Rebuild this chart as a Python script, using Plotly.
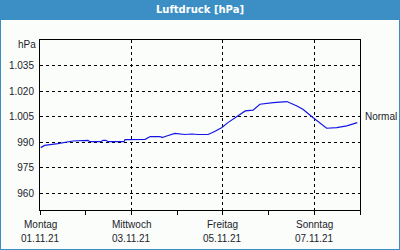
import plotly.graph_objects as go

# --- data ---
days = [0.015, 0.10, 0.39, 0.72, 1.05, 1.09, 1.33, 1.38, 1.44, 1.49, 1.84, 1.86,
        2.30, 2.41, 2.63, 2.67, 2.77, 2.95, 3.17, 3.32, 3.46, 3.68, 3.83, 3.98,
        4.11, 4.33, 4.49, 4.66, 4.81, 5.10, 5.40, 5.62, 5.75, 5.97, 6.27, 6.49,
        6.71, 6.94]
pressure = [986.7, 988.0, 989.0, 990.6, 991.0, 990.2, 990.2, 991.0, 991.0, 990.2, 990.2, 991.4,
            991.6, 993.2, 993.2, 992.6, 993.5, 995.1, 994.4, 994.7, 994.4, 994.4, 996.3, 998.5,
            1001.4, 1005.3, 1008.3, 1008.7, 1012.2, 1013.2, 1013.8, 1011.2, 1009.3, 1004.4, 998.1, 998.5,
            999.5, 1001.4]
y_tickvals = [960, 975, 990, 1005, 1020, 1035]
y_ticktext = ["960", "975", "990", "1.005", "1.020", "1.035"]
x_tickvals = [0, 2, 4, 6]
x_daynames = ["Montag", "Mittwoch", "Freitag", "Sonntag"]
x_dates = ["01.11.21", "03.11.21", "05.11.21", "07.11.21"]
day_ticks = [0, 1, 2, 3, 4, 5, 6, 7]
normal_value = 1005
title = "Luftdruck [hPa]"

FONT = "Liberation Sans"
TXT = "#1c1c2c"
BLUE = "#3c8fc5"
BG = "#fafdfa"

fig = go.Figure()
fig.add_trace(go.Scatter(x=days, y=pressure, mode="lines",
                         line=dict(color="#1414e6", width=1.2),
                         hoverinfo="skip", showlegend=False))
fig.add_trace(go.Scatter(x=[day_ticks[0], day_ticks[-1]], y=[960, 960], xaxis="x2",
                         mode="markers", marker=dict(opacity=0), showlegend=False,
                         hoverinfo="skip"))

fig.update_layout(
    width=400, height=250,
    margin=dict(l=40, r=40, t=40, b=40),
    paper_bgcolor=BG, plot_bgcolor=BG,
    font=dict(family=FONT, size=10, color=TXT),
    xaxis=dict(range=[0, 7], tickmode="array", tickvals=x_tickvals,
               showticklabels=False,
               showgrid=True, gridcolor="black", griddash="3px,3px", gridwidth=1,
               showline=True, linecolor="black", linewidth=1, mirror=True,
               ticks="", zeroline=False, automargin=False),
    xaxis2=dict(range=[0, 7], overlaying="x", anchor="y", side="bottom",
                tickmode="array", tickvals=day_ticks, ticks="outside", ticklen=4,
                tickcolor="black", showticklabels=False, showgrid=False,
                zeroline=False, showline=False, automargin=False),
    yaxis=dict(range=[950, 1050], tickmode="array", tickvals=y_tickvals, ticktext=y_ticktext,
               showgrid=True, gridcolor="black", griddash="3px,3px", gridwidth=1,
               showline=True, linecolor="black", linewidth=1, mirror=True,
               ticks="", zeroline=False, tickfont=dict(size=10, color=TXT),
               ticklabelstandoff=3, automargin=False),
)

# x axis labels (two rows)
for xv, name, date in zip(x_tickvals, x_daynames, x_dates):
    fig.add_annotation(text=name, xref="x", yref="paper", x=xv, y=-14/170,
                       xanchor="center", yanchor="middle", showarrow=False,
                       font=dict(family=FONT, size=10, color=TXT))
    fig.add_annotation(text=date, xref="x", yref="paper", x=xv, y=-28.5/170,
                       xanchor="center", yanchor="middle", showarrow=False,
                       font=dict(family=FONT, size=10, color=TXT))

# title bar and frame
fig.add_shape(type="rect", xref="paper", yref="paper",
              x0=-40/320, x1=1+40/320, y0=1+20/170, y1=1+40/170,
              fillcolor=BLUE, line=dict(width=0), layer="above")
fig.add_shape(type="rect", xref="paper", yref="paper",
              x0=-40/320, x1=1+40/320, y0=-40/170, y1=1+40/170,
              line=dict(color=BLUE, width=2), fillcolor="rgba(0,0,0,0)")
fig.add_annotation(text="<b>" + title + "</b>", xref="paper", yref="paper",
                   x=0.5, y=1+30/170, showarrow=False, xanchor="center", yanchor="middle",
                   font=dict(family="DejaVu Sans", size=10, color="white"))
fig.add_annotation(text="hPa", xref="paper", yref="y", x=0, y=1047.5, xshift=-2,
                   xanchor="right", yanchor="middle", showarrow=False,
                   font=dict(family=FONT, size=10, color=TXT))
fig.add_annotation(text="Normal", xref="paper", yref="y", x=1, y=normal_value, xshift=3,
                   xanchor="left", yanchor="middle", showarrow=False,
                   font=dict(family=FONT, size=10, color=TXT))

fig.write_html("out.html")
